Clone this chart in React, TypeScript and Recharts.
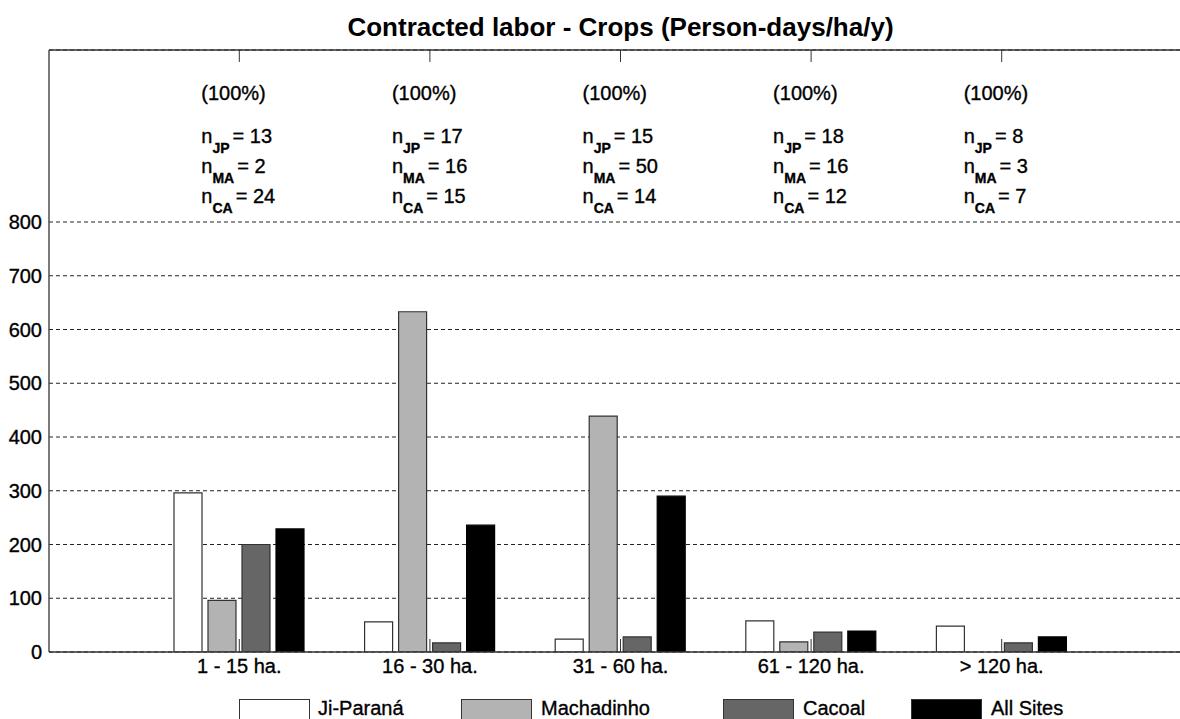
import React from 'react';
import { BarChart, Bar, XAxis, YAxis, CartesianGrid, Legend, ReferenceLine } from 'recharts';

// size classes (farm area)
const categories = ['1 - 15 ha.', '16 - 30 ha.', '31 - 60 ha.', '61 - 120 ha.', '> 120 ha.'];

// contracted labor, person-days/ha/y
const jiParana = [296, 56, 24, 58, 48];
const machadinho = [96, 633, 439, 19, 0];
const cacoal = [200, 17, 28, 37, 17];
const allSites = [229, 236, 290, 39, 28];

// annotations above each group
const pctLabels = ['(100%)', '(100%)', '(100%)', '(100%)', '(100%)'];
const nJP = [13, 17, 15, 18, 8];
const nMA = [2, 16, 50, 16, 3];
const nCA = [24, 15, 14, 12, 7];

const yTicks = [0, 100, 200, 300, 400, 500, 600, 700, 800];
const yMax = 1120;

const seriesInfo = [
  { key: 'jiParana', name: 'Ji-Paraná', fill: '#ffffff', stroke: '#333333' },
  { key: 'machadinho', name: 'Machadinho', fill: '#b3b3b3', stroke: '#333333' },
  { key: 'cacoal', name: 'Cacoal', fill: '#666666', stroke: '#333333' },
  { key: 'allSites', name: 'All Sites', fill: '#000000', stroke: '#000000' },
];

const data = categories.map((cat, i) => ({
  cat,
  jiParana: jiParana[i],
  machadinho: machadinho[i],
  cacoal: cacoal[i],
  allSites: allSites[i],
}));

const FONT = '"Liberation Sans", Arial, Helvetica, sans-serif';
const AXIS = '#333333';
const PLOT_TOP = 50;
const txt = { fontSize: 20, fontFamily: FONT, fill: '#000', stroke: '#000', strokeWidth: 0.35 };

const Sub = ({ x, y, sub, value }: { x: number; y: number; sub: string; value: number }) => (
  <text x={x} y={y} {...txt}>
    n
    <tspan fontSize={14} fontWeight="bold" dy={10}>{sub}</tspan>
    <tspan fontSize={20} dy={-10} dx={3}>= {value}</tspan>
  </text>
);

// bottom tick: inward tick mark + label, plus the matching top tick and group notes
const BottomTick = (props: any) => {
  const { x, y, payload, index } = props;
  const lx = x - 38;
  const t = PLOT_TOP;
  return (
    <g>
      <line x1={x} x2={x} y1={y} y2={y - 13} stroke={AXIS} strokeWidth={1} />
      <text x={x} y={y + 21} textAnchor="middle" {...txt}>
        {payload.value}
      </text>
      <line x1={x} x2={x} y1={t} y2={t + 12} stroke={AXIS} strokeWidth={1} />
      <text x={lx} y={t + 50} {...txt}>
        {pctLabels[index]}
      </text>
      <Sub x={lx} y={t + 93} sub="JP" value={nJP[index]} />
      <Sub x={lx} y={t + 123} sub="MA" value={nMA[index]} />
      <Sub x={lx} y={t + 153} sub="CA" value={nCA[index]} />
    </g>
  );
};

const LeftTick = (props: any) => {
  const { x, y, payload } = props;
  return (
    <text x={x - 7} y={y + 7} textAnchor="end" {...txt}>
      {payload.value}
    </text>
  );
};

const legendPos = [
  { swatch: 239, text: 318 },
  { swatch: 461, text: 541 },
  { swatch: 723, text: 803 },
  { swatch: 911, text: 991 },
];

const LegendContent = () => (
  <div style={{ position: 'relative', width: 1192, height: 37 }}>
    {seriesInfo.map((s, i) => (
      <React.Fragment key={s.key}>
        <div
          style={{
            position: 'absolute',
            left: legendPos[i].swatch,
            top: 17,
            width: 71,
            height: 22,
            background: s.fill,
            border: '1px solid #333',
            boxSizing: 'border-box',
          }}
        />
        <div
          style={{
            position: 'absolute',
            left: legendPos[i].text,
            top: 14,
            fontSize: 20,
            lineHeight: '24px',
            fontFamily: FONT,
            color: '#000',
            WebkitTextStroke: '0.35px #000',
            whiteSpace: 'nowrap',
          }}
        >
          {s.name}
        </div>
      </React.Fragment>
    ))}
  </div>
);

export default function App() {
  return (
    <div
      style={{
        position: 'absolute',
        left: 0,
        top: 0,
        width: 1180,
        height: 719,
        overflow: 'hidden',
        background: '#fff',
      }}
    >
      <div
        style={{
          position: 'absolute',
          left: 49,
          width: 1143,
          top: 11,
          textAlign: 'center',
          fontFamily: FONT,
          fontWeight: 'bold',
          fontSize: 26,
          lineHeight: '32px',
          color: '#000',
          zIndex: 2,
        }}
      >
        Contracted labor - Crops (Person-days/ha/y)
      </div>
      <BarChart
        width={1192}
        height={719}
        data={data}
        margin={{ top: PLOT_TOP, right: 0, left: 0, bottom: 0 }}
        barSize={28}
        barGap={6}
      >
        <CartesianGrid vertical={false} stroke="#222" strokeDasharray="4 3" />
        <XAxis
          dataKey="cat"
          height={30}
          padding={{ left: 95, right: 95 }}
          axisLine={{ stroke: AXIS, strokeWidth: 1.3 }}
          tickLine={false}
          tickSize={0}
          tickMargin={0}
          tick={<BottomTick />}
          interval={0}
        />
        <YAxis
          width={49}
          domain={[0, yMax]}
          ticks={yTicks}
          allowDataOverflow
          axisLine={{ stroke: AXIS, strokeWidth: 1.3 }}
          tickLine={false}
          tickSize={0}
          tickMargin={0}
          tick={<LeftTick />}
          interval={0}
        />
        <ReferenceLine y={yMax} stroke={AXIS} strokeWidth={1.5} />
        <Legend verticalAlign="bottom" content={<LegendContent />} />
        {seriesInfo.map((s) => (
          <Bar
            key={s.key}
            dataKey={s.key}
            name={s.name}
            fill={s.fill}
            stroke={s.stroke}
            strokeWidth={1.2}
            isAnimationActive={false}
          />
        ))}
      </BarChart>
    </div>
  );
}
